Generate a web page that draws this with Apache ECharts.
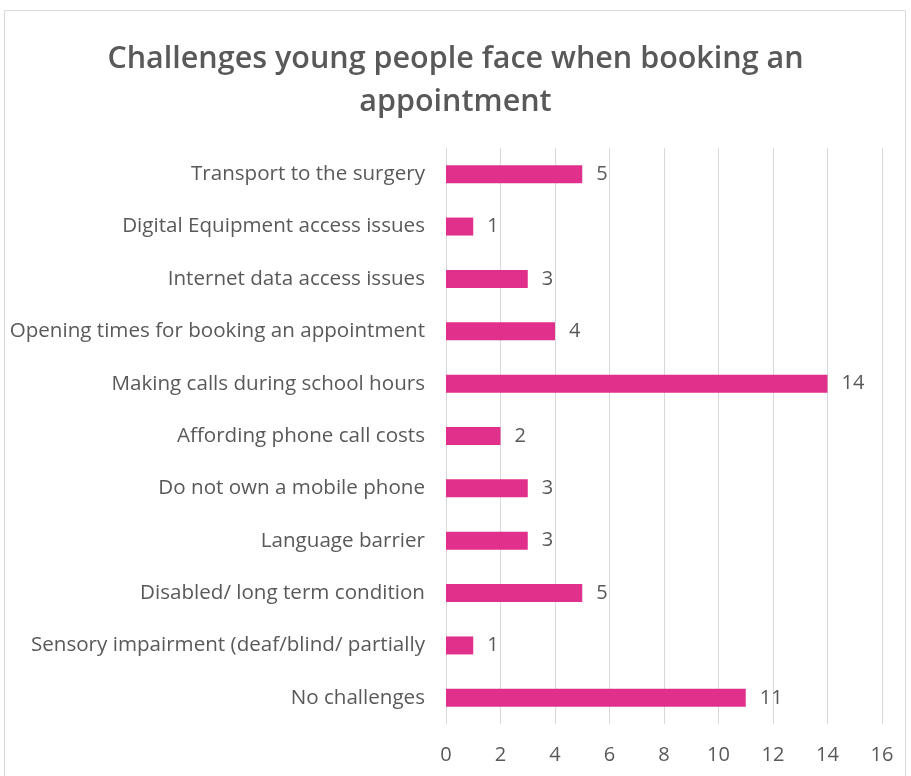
<!DOCTYPE html>
<html>
<head>
<meta charset="utf-8">
<script src="https://cdn.jsdelivr.net/npm/echarts@6/dist/echarts.min.js"></script>
<style>
  html, body { margin: 0; padding: 0; background: #fff; }
  #chart { width: 911px; height: 776px; }
</style>
</head>
<body>
<div id="chart"></div>
<script>
// Survey responses: challenges when booking an appointment (top to bottom)
const categories = [
  'Transport to the surgery',
  'Digital Equipment access issues',
  'Internet data access issues',
  'Opening times for booking an appointment',
  'Making calls during school hours',
  'Affording phone call costs',
  'Do not own a mobile phone',
  'Language barrier',
  'Disabled/ long term condition',
  'Sensory impairment (deaf/blind/ partially',
  'No challenges'
];
const counts = [5, 1, 3, 4, 14, 2, 3, 3, 5, 1, 11];
const xTicks = [0, 2, 4, 6, 8, 10, 12, 14, 16];

const textColor = '#595959';
const font = 'Open Sans';

const chart = echarts.init(document.getElementById('chart'), null, { renderer: 'canvas' });
chart.setOption({
  backgroundColor: '#fff',
  animation: false,
  graphic: [{
    type: 'rect',
    shape: { x: 4.5, y: 10.5, width: 901, height: 800 },
    style: { fill: 'none', stroke: '#d9d9d9', lineWidth: 1 },
    silent: true
  }],
  title: {
    text: 'Challenges young people face when booking an\nappointment',
    left: 'center',
    top: 33,
    textStyle: {
      fontFamily: font,
      fontWeight: 600,
      fontSize: 30.5,
      color: textColor,
      lineHeight: 43
    }
  },
  grid: { left: 446, right: 29, top: 148, bottom: 52, containLabel: false },
  xAxis: {
    type: 'value',
    min: xTicks[0],
    max: xTicks[xTicks.length - 1],
    interval: 2,
    axisLine: { show: false },
    axisTick: { show: false },
    splitLine: { show: true, lineStyle: { color: '#d9d9d9', width: 1 } },
    axisLabel: {
      color: textColor,
      fontFamily: font,
      fontSize: 20,
      margin: 21
    }
  },
  yAxis: {
    type: 'category',
    data: categories,
    inverse: true,
    axisLine: { show: true, lineStyle: { color: '#d9d9d9' } },
    axisTick: { show: false },
    axisLabel: {
      color: textColor,
      fontFamily: font,
      fontSize: 20.6,
      margin: 21
    }
  },
  series: [{
    type: 'bar',
    data: counts,
    barWidth: 18,
    itemStyle: { color: '#e0308b' },
    label: {
      show: true,
      position: 'right',
      distance: 14,
      color: textColor,
      fontFamily: font,
      fontSize: 20
    }
  }]
});
</script>
</body>
</html>
